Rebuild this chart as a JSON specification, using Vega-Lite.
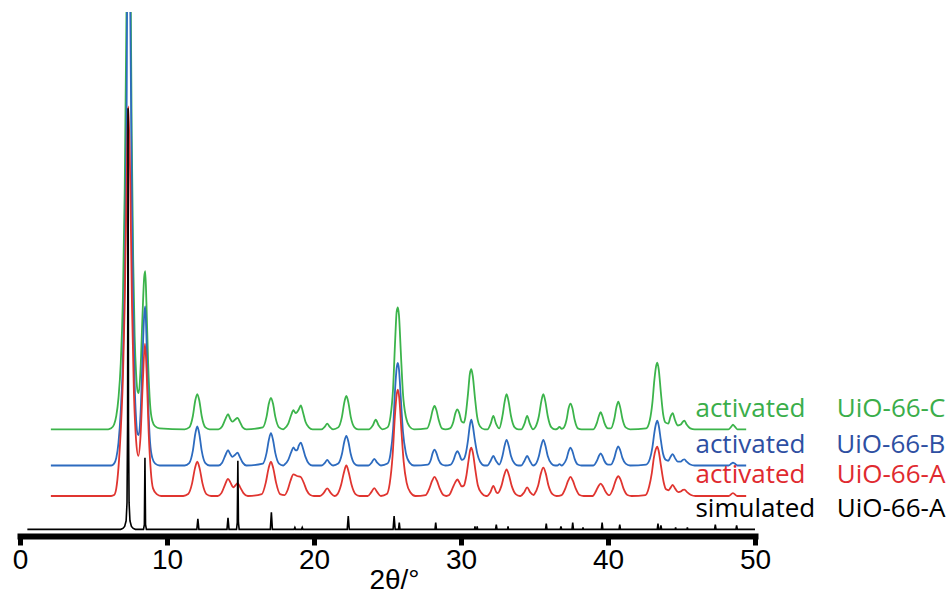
{
  "$schema": "https://vega.github.io/schema/vega-lite/v6.json",
  "width": 735,
  "height": 524,
  "autosize": {"type": "none"},
  "padding": {"left": 20, "top": 12, "right": 196, "bottom": 58},
  "background": "white",
  "config": {"view": {"stroke": null}},
  "datasets": {
    "UiO-66-C": [
      {"x":2.1,"y":112},{"x":4,"y":112},{"x":6.0,"y":112},{"x":6.2,"y":113},{"x":6.4,"y":117},{"x":6.55,"y":126},{"x":6.7,"y":145},{"x":6.85,"y":180},{"x":7.0,"y":250},{"x":7.12,"y":360},{"x":7.25,"y":560},{"x":7.37,"y":900},{"x":7.5,"y":640},{"x":7.6,"y":420},{"x":7.7,"y":290},{"x":7.8,"y":210},{"x":7.9,"y":170},{"x":8.0,"y":152},{"x":8.08,"y":150},{"x":8.2,"y":175},{"x":8.33,"y":230},{"x":8.45,"y":272},{"x":8.52,"y":278},{"x":8.6,"y":245},{"x":8.72,"y":180},{"x":8.85,"y":138},{"x":9.0,"y":121},{"x":9.2,"y":115},{"x":9.5,"y":113},
      {"x":11.2,"y":112},{"x":11.51,"y":114},{"x":11.76,"y":126},{"x":11.92,"y":142},{"x":12.06,"y":149},{"x":12.2,"y":142},{"x":12.36,"y":126},{"x":12.61,"y":114},{"x":12.9,"y":112},
      {"x":13.5,"y":112},{"x":13.75,"y":115},{"x":13.98,"y":123},{"x":14.15,"y":128},{"x":14.3,"y":123},{"x":14.45,"y":120},{"x":14.62,"y":122},{"x":14.8,"y":124},{"x":14.95,"y":120},{"x":15.15,"y":114},{"x":15.4,"y":112},
      {"x":16.52,"y":114},{"x":16.77,"y":125},{"x":16.93,"y":139},{"x":17.07,"y":145},{"x":17.21,"y":139},{"x":17.37,"y":125},{"x":17.62,"y":114},{"x":17.9,"y":112},
      {"x":18.0,"y":113},{"x":18.25,"y":118},{"x":18.45,"y":127},{"x":18.6,"y":132},{"x":18.75,"y":129},{"x":18.85,"y":130},{"x":18.97,"y":133},{"x":19.1,"y":137},{"x":19.25,"y":130},{"x":19.42,"y":120},{"x":19.65,"y":114},{"x":19.9,"y":112},
      {"x":20.5,"y":112},{"x":20.75,"y":115},{"x":20.9,"y":118},{"x":21.05,"y":115},{"x":21.3,"y":112},
      {"x":21.65,"y":114},{"x":21.9,"y":125},{"x":22.06,"y":140},{"x":22.2,"y":147},{"x":22.34,"y":140},{"x":22.5,"y":125},{"x":22.75,"y":114},{"x":23.0,"y":112},
      {"x":23.75,"y":112},{"x":24.0,"y":116},{"x":24.2,"y":122},{"x":24.4,"y":116},{"x":24.65,"y":112},
      {"x":25.0,"y":114},{"x":25.2,"y":125},{"x":25.38,"y":155},{"x":25.52,"y":205},{"x":25.62,"y":235},{"x":25.7,"y":240},{"x":25.78,"y":232},{"x":25.9,"y":195},{"x":26.05,"y":150},{"x":26.25,"y":125},{"x":26.5,"y":115},{"x":26.8,"y":112},
      {"x":27.7,"y":113},{"x":27.92,"y":122},{"x":28.07,"y":132},{"x":28.2,"y":136.5},{"x":28.33,"y":132},{"x":28.48,"y":122},{"x":28.7,"y":113},{"x":28.95,"y":112},
      {"x":29.25,"y":113},{"x":29.48,"y":120},{"x":29.62,"y":129},{"x":29.75,"y":133},{"x":29.88,"y":129},{"x":30.05,"y":120},{"x":30.2,"y":119},{"x":30.3,"y":125},{"x":30.48,"y":150},{"x":30.6,"y":170},{"x":30.7,"y":175},{"x":30.8,"y":168},{"x":30.95,"y":145},{"x":31.1,"y":125},{"x":31.3,"y":115},{"x":31.6,"y":112},
      {"x":31.8,"y":112},{"x":32.02,"y":118},{"x":32.2,"y":126},{"x":32.38,"y":118},{"x":32.6,"y":113},{"x":32.82,"y":126},{"x":32.97,"y":141},{"x":33.1,"y":149},{"x":33.24,"y":141},{"x":33.4,"y":126},{"x":33.65,"y":114},{"x":33.9,"y":112},
      {"x":34.1,"y":112},{"x":34.32,"y":118},{"x":34.5,"y":126},{"x":34.68,"y":118},{"x":34.9,"y":112},
      {"x":35.05,"y":114},{"x":35.3,"y":126},{"x":35.46,"y":141},{"x":35.6,"y":149},{"x":35.74,"y":141},{"x":35.9,"y":126},{"x":36.15,"y":114},{"x":36.4,"y":112},
      {"x":36.55,"y":112.5},{"x":36.7,"y":114.5},{"x":36.85,"y":112.5},
      {"x":36.95,"y":113},{"x":37.18,"y":122},{"x":37.32,"y":134},{"x":37.45,"y":139},{"x":37.58,"y":134},{"x":37.73,"y":122},{"x":37.95,"y":113},{"x":38.2,"y":112},
      {"x":39.0,"y":112},{"x":39.25,"y":119},{"x":39.38,"y":126},{"x":39.5,"y":130},{"x":39.62,"y":126},{"x":39.75,"y":119},{"x":40.0,"y":113},
      {"x":40.2,"y":113},{"x":40.43,"y":123},{"x":40.57,"y":135},{"x":40.7,"y":141},{"x":40.83,"y":135},{"x":40.98,"y":123},{"x":41.2,"y":114},{"x":41.5,"y":112},
      {"x":42.6,"y":113},{"x":42.85,"y":122},{"x":43.02,"y":140},{"x":43.15,"y":163},{"x":43.27,"y":178},{"x":43.35,"y":182},{"x":43.45,"y":175},{"x":43.6,"y":150},{"x":43.75,"y":128},{"x":43.92,"y":119},{"x":44.1,"y":118},{"x":44.25,"y":125},{"x":44.4,"y":129},{"x":44.55,"y":122},{"x":44.75,"y":116},{"x":44.95,"y":117},{"x":45.1,"y":120},{"x":45.2,"y":121},{"x":45.35,"y":117},{"x":45.6,"y":113},{"x":45.9,"y":112},
      {"x":48.2,"y":112},{"x":48.4,"y":115},{"x":48.5,"y":117},{"x":48.62,"y":115},{"x":48.8,"y":112},{"x":49.4,"y":112}
    ],
    "UiO-66-B": [
      {"x":2.1,"y":74},{"x":4,"y":74},{"x":6.2,"y":74},{"x":6.4,"y":76},{"x":6.55,"y":82},{"x":6.7,"y":98},{"x":6.85,"y":130},{"x":7.0,"y":185},{"x":7.12,"y":270},{"x":7.25,"y":440},{"x":7.37,"y":820},{"x":7.5,"y":560},{"x":7.6,"y":370},{"x":7.7,"y":240},{"x":7.8,"y":160},{"x":7.9,"y":122},{"x":8.0,"y":107},{"x":8.08,"y":106},{"x":8.2,"y":128},{"x":8.33,"y":185},{"x":8.45,"y":232},{"x":8.52,"y":241},{"x":8.6,"y":210},{"x":8.72,"y":140},{"x":8.85,"y":98},{"x":9.0,"y":82},{"x":9.2,"y":76},{"x":9.5,"y":74},
      {"x":11.2,"y":74},{"x":11.51,"y":76.5},{"x":11.76,"y":89.6},{"x":11.92,"y":106.8},{"x":12.06,"y":115},{"x":12.2,"y":106.8},{"x":12.36,"y":89.6},{"x":12.61,"y":76.5},{"x":12.9,"y":74},
      {"x":13.5,"y":74},{"x":13.75,"y":77},{"x":13.98,"y":85},{"x":14.15,"y":90},{"x":14.3,"y":86},{"x":14.45,"y":83},{"x":14.62,"y":85},{"x":14.8,"y":87.5},{"x":14.95,"y":83},{"x":15.15,"y":77},{"x":15.4,"y":74},
      {"x":16.52,"y":76},{"x":16.77,"y":87},{"x":16.93,"y":101},{"x":17.07,"y":108},{"x":17.21,"y":101},{"x":17.37,"y":87},{"x":17.62,"y":76},{"x":17.9,"y":74},
      {"x":18.0,"y":75},{"x":18.25,"y":80},{"x":18.45,"y":88},{"x":18.6,"y":93},{"x":18.75,"y":90},{"x":18.85,"y":90},{"x":18.97,"y":95},{"x":19.1,"y":98},{"x":19.25,"y":92},{"x":19.42,"y":83},{"x":19.65,"y":76},{"x":19.9,"y":74},
      {"x":20.5,"y":74},{"x":20.75,"y":77},{"x":20.9,"y":80},{"x":21.05,"y":77},{"x":21.3,"y":74},
      {"x":21.65,"y":76},{"x":21.9,"y":86},{"x":22.06,"y":99},{"x":22.2,"y":105},{"x":22.34,"y":99},{"x":22.5,"y":86},{"x":22.75,"y":76},{"x":23.0,"y":74},
      {"x":23.7,"y":74},{"x":23.92,"y":77},{"x":24.1,"y":81},{"x":24.3,"y":77},{"x":24.55,"y":74},
      {"x":25.0,"y":76},{"x":25.2,"y":86},{"x":25.38,"y":112},{"x":25.52,"y":155},{"x":25.62,"y":176},{"x":25.7,"y":181.7},{"x":25.78,"y":175},{"x":25.9,"y":146},{"x":26.05,"y":110},{"x":26.25,"y":87},{"x":26.5,"y":77},{"x":26.8,"y":74},
      {"x":27.75,"y":75},{"x":27.95,"y":80},{"x":28.07,"y":87},{"x":28.2,"y":90.7},{"x":28.33,"y":87},{"x":28.48,"y":80},{"x":28.7,"y":75},{"x":28.95,"y":74},
      {"x":29.3,"y":75},{"x":29.5,"y":80},{"x":29.63,"y":86},{"x":29.75,"y":89},{"x":29.88,"y":86},{"x":30.05,"y":80},{"x":30.2,"y":81},{"x":30.3,"y":85},{"x":30.48,"y":101},{"x":30.6,"y":116},{"x":30.7,"y":122},{"x":30.8,"y":116},{"x":30.95,"y":100},{"x":31.1,"y":87},{"x":31.3,"y":78},{"x":31.6,"y":74},
      {"x":31.8,"y":74},{"x":32.02,"y":79},{"x":32.2,"y":84},{"x":32.38,"y":79},{"x":32.6,"y":75},{"x":32.82,"y":84},{"x":32.97,"y":95},{"x":33.1,"y":101},{"x":33.24,"y":95},{"x":33.4,"y":84},{"x":33.65,"y":76},{"x":33.9,"y":74},
      {"x":34.1,"y":74},{"x":34.32,"y":79},{"x":34.5,"y":84},{"x":34.68,"y":79},{"x":34.9,"y":74},
      {"x":35.05,"y":75},{"x":35.3,"y":84},{"x":35.46,"y":95},{"x":35.6,"y":101},{"x":35.74,"y":95},{"x":35.9,"y":84},{"x":36.15,"y":76},{"x":36.4,"y":74},
      {"x":36.55,"y":74},{"x":36.7,"y":75.5},{"x":36.85,"y":74},
      {"x":36.95,"y":75},{"x":37.18,"y":81},{"x":37.32,"y":89},{"x":37.45,"y":92.7},{"x":37.58,"y":89},{"x":37.73,"y":81},{"x":37.95,"y":75},{"x":38.2,"y":74},
      {"x":39.0,"y":74},{"x":39.25,"y":79},{"x":39.38,"y":84},{"x":39.5,"y":86.7},{"x":39.62,"y":84},{"x":39.75,"y":79},{"x":40.0,"y":75},
      {"x":40.2,"y":75},{"x":40.43,"y":82},{"x":40.57,"y":90},{"x":40.7,"y":94},{"x":40.83,"y":90},{"x":40.98,"y":82},{"x":41.2,"y":76},{"x":41.5,"y":74},
      {"x":42.6,"y":75},{"x":42.85,"y":81},{"x":43.02,"y":93},{"x":43.15,"y":108},{"x":43.27,"y":118},{"x":43.35,"y":121},{"x":43.45,"y":116},{"x":43.6,"y":100},{"x":43.75,"y":86},{"x":43.92,"y":80},{"x":44.1,"y":79},{"x":44.25,"y":83},{"x":44.4,"y":86},{"x":44.55,"y":82},{"x":44.75,"y":78},{"x":44.95,"y":78},{"x":45.1,"y":80},{"x":45.2,"y":80.5},{"x":45.35,"y":78},{"x":45.6,"y":75},{"x":45.9,"y":74},
      {"x":48.2,"y":74},{"x":48.4,"y":76},{"x":48.5,"y":77},{"x":48.62,"y":76},{"x":48.8,"y":74},{"x":49.4,"y":74}
    ],
    "UiO-66-A": [
      {"x":2.1,"y":42},{"x":4,"y":42},{"x":6.2,"y":42},{"x":6.4,"y":43},{"x":6.55,"y":50},{"x":6.7,"y":72},{"x":6.85,"y":110},{"x":7.0,"y":165},{"x":7.12,"y":240},{"x":7.25,"y":365},{"x":7.37,"y":451},{"x":7.5,"y":370},{"x":7.62,"y":240},{"x":7.75,"y":150},{"x":7.9,"y":100},{"x":8.05,"y":84},{"x":8.2,"y":105},{"x":8.35,"y":160},{"x":8.5,"y":202},{"x":8.62,"y":170},{"x":8.75,"y":110},{"x":8.9,"y":68},{"x":9.05,"y":50},{"x":9.3,"y":44},{"x":9.6,"y":42},
      {"x":11.1,"y":42},{"x":11.44,"y":44},{"x":11.71,"y":55.5},{"x":11.9,"y":71},{"x":12.06,"y":78},{"x":12.22,"y":71},{"x":12.41,"y":55.5},{"x":12.68,"y":44},{"x":13.0,"y":42},
      {"x":13.45,"y":42},{"x":13.7,"y":45},{"x":13.95,"y":54},{"x":14.15,"y":60},{"x":14.32,"y":56},{"x":14.5,"y":51},{"x":14.65,"y":53},{"x":14.8,"y":55.5},{"x":14.98,"y":51},{"x":15.2,"y":45},{"x":15.5,"y":42},
      {"x":16.45,"y":44},{"x":16.72,"y":56},{"x":16.91,"y":71},{"x":17.07,"y":78},{"x":17.23,"y":71},{"x":17.42,"y":56},{"x":17.69,"y":44},{"x":18.0,"y":43},
      {"x":18.2,"y":48},{"x":18.4,"y":58},{"x":18.6,"y":64.7},{"x":18.85,"y":63},{"x":19.1,"y":62},{"x":19.3,"y":56},{"x":19.5,"y":48},{"x":19.75,"y":43},{"x":20.0,"y":42},
      {"x":20.4,"y":42},{"x":20.65,"y":45},{"x":20.9,"y":50},{"x":21.15,"y":45},{"x":21.4,"y":42},
      {"x":21.6,"y":44},{"x":21.85,"y":54},{"x":22.04,"y":67},{"x":22.2,"y":74},{"x":22.36,"y":67},{"x":22.55,"y":54},{"x":22.82,"y":44},{"x":23.1,"y":42},
      {"x":23.65,"y":42},{"x":23.9,"y":46},{"x":24.1,"y":50.3},{"x":24.3,"y":46},{"x":24.55,"y":42},
      {"x":24.95,"y":44},{"x":25.15,"y":55},{"x":25.35,"y":85},{"x":25.5,"y":125},{"x":25.62,"y":148},{"x":25.7,"y":153.7},{"x":25.8,"y":145},{"x":25.95,"y":110},{"x":26.1,"y":78},{"x":26.3,"y":56},{"x":26.55,"y":46},{"x":26.9,"y":42},
      {"x":27.6,"y":43},{"x":27.85,"y":50},{"x":28.04,"y":58},{"x":28.2,"y":62},{"x":28.36,"y":58},{"x":28.55,"y":50},{"x":28.8,"y":43},{"x":29.0,"y":42},
      {"x":29.2,"y":43},{"x":29.42,"y":50},{"x":29.6,"y":56},{"x":29.75,"y":59.3},{"x":29.9,"y":56},{"x":30.05,"y":52},{"x":30.2,"y":53},{"x":30.35,"y":62},{"x":30.52,"y":80},{"x":30.62,"y":90},{"x":30.7,"y":92.7},{"x":30.8,"y":88},{"x":30.97,"y":70},{"x":31.15,"y":53},{"x":31.4,"y":45},{"x":31.7,"y":42},
      {"x":31.75,"y":42},{"x":32.0,"y":46},{"x":32.2,"y":52.7},{"x":32.4,"y":46},{"x":32.5,"y":45},{"x":32.75,"y":52.6},{"x":32.94,"y":64},{"x":33.1,"y":70},{"x":33.26,"y":64},{"x":33.45,"y":52.6},{"x":33.72,"y":44},{"x":34.0,"y":42},
      {"x":34.05,"y":42},{"x":34.3,"y":46},{"x":34.5,"y":51},{"x":34.7,"y":46},{"x":34.95,"y":43},
      {"x":35.0,"y":44},{"x":35.25,"y":53},{"x":35.44,"y":66},{"x":35.6,"y":71.7},{"x":35.76,"y":66},{"x":35.95,"y":53},{"x":36.22,"y":44},{"x":36.5,"y":42},
      {"x":36.85,"y":43},{"x":37.1,"y":50},{"x":37.29,"y":58},{"x":37.45,"y":62},{"x":37.61,"y":58},{"x":37.8,"y":50},{"x":38.07,"y":43},{"x":38.35,"y":42},
      {"x":38.95,"y":42},{"x":39.18,"y":47},{"x":39.34,"y":52},{"x":39.5,"y":55},{"x":39.66,"y":52},{"x":39.82,"y":47},{"x":40.05,"y":43},
      {"x":40.1,"y":43},{"x":40.35,"y":50},{"x":40.54,"y":59},{"x":40.7,"y":62.7},{"x":40.86,"y":59},{"x":41.05,"y":50},{"x":41.32,"y":43},{"x":41.6,"y":42},
      {"x":42.55,"y":43},{"x":42.8,"y":52},{"x":42.98,"y":66},{"x":43.12,"y":82},{"x":43.25,"y":91},{"x":43.35,"y":93.7},{"x":43.45,"y":89},{"x":43.6,"y":74},{"x":43.78,"y":57},{"x":43.95,"y":49},{"x":44.12,"y":48},{"x":44.27,"y":51},{"x":44.4,"y":53.7},{"x":44.56,"y":50},{"x":44.78,"y":46},{"x":44.98,"y":47},{"x":45.1,"y":48.5},{"x":45.2,"y":48.7},{"x":45.38,"y":46},{"x":45.65,"y":43},{"x":45.95,"y":42},
      {"x":48.2,"y":42},{"x":48.5,"y":45},{"x":48.8,"y":42},{"x":49.4,"y":42}
    ],
    "simulated UiO-66-A": [
      {"x":0.5,"y":7},{"x":6.85,"y":7},{"x":7.0,"y":8},{"x":7.12,"y":10},{"x":7.22,"y":16},{"x":7.28,"y":35},{"x":7.32,"y":120},{"x":7.35,"y":449},{"x":7.38,"y":120},{"x":7.42,"y":35},{"x":7.48,"y":16},{"x":7.58,"y":10},{"x":7.7,"y":8},{"x":7.85,"y":7},
      {"x":8.4,"y":7},{"x":8.46,"y":12},{"x":8.5,"y":82},{"x":8.54,"y":12},{"x":8.6,"y":7},
      {"x":12.03,"y":7},{"x":12.1,"y":18},{"x":12.17,"y":7},
      {"x":14.08,"y":7},{"x":14.15,"y":19},{"x":14.22,"y":7},
      {"x":14.73,"y":7},{"x":14.78,"y":14},{"x":14.82,"y":79},{"x":14.86,"y":14},{"x":14.91,"y":7},
      {"x":17.03,"y":7},{"x":17.1,"y":25},{"x":17.17,"y":7},
      {"x":18.65,"y":7},{"x":18.7,"y":9},{"x":18.75,"y":7},{"x":19.15,"y":7},{"x":19.2,"y":9},{"x":19.25,"y":7},
      {"x":22.26,"y":7},{"x":22.33,"y":21},{"x":22.4,"y":7},
      {"x":25.38,"y":7},{"x":25.45,"y":21},{"x":25.52,"y":7},{"x":25.75,"y":7},{"x":25.8,"y":14},{"x":25.85,"y":7},
      {"x":28.23,"y":7},{"x":28.28,"y":14},{"x":28.33,"y":7},
      {"x":30.92,"y":7},{"x":30.95,"y":10},{"x":30.98,"y":7},{"x":31.07,"y":7},{"x":31.1,"y":10},{"x":31.13,"y":7},
      {"x":32.35,"y":7},{"x":32.4,"y":12},{"x":32.45,"y":7},
      {"x":33.17,"y":7},{"x":33.2,"y":10},{"x":33.23,"y":7},
      {"x":35.75,"y":7},{"x":35.8,"y":13},{"x":35.85,"y":7},
      {"x":36.75,"y":7},{"x":36.8,"y":10},{"x":36.85,"y":7},
      {"x":37.55,"y":7},{"x":37.6,"y":14},{"x":37.65,"y":7},
      {"x":38.27,"y":7},{"x":38.3,"y":9},{"x":38.33,"y":7},
      {"x":39.55,"y":7},{"x":39.6,"y":14},{"x":39.65,"y":7},
      {"x":40.75,"y":7},{"x":40.8,"y":12},{"x":40.85,"y":7},
      {"x":43.35,"y":7},{"x":43.4,"y":13},{"x":43.45,"y":7},{"x":43.55,"y":7},{"x":43.6,"y":11},{"x":43.65,"y":7},
      {"x":44.57,"y":7},{"x":44.6,"y":9},{"x":44.63,"y":7},
      {"x":45.37,"y":7},{"x":45.4,"y":9},{"x":45.43,"y":7},
      {"x":47.25,"y":7},{"x":47.3,"y":12},{"x":47.35,"y":7},
      {"x":48.7,"y":7},{"x":48.75,"y":11},{"x":48.8,"y":7},
      {"x":50.0,"y":7}
    ],
    "labels": [
      {"series":"activated UiO-66-C","kind":"activated","name":"UiO-66-C","offset":112},
      {"series":"activated UiO-66-B","kind":"activated","name":"UiO-66-B","offset":74},
      {"series":"activated UiO-66-A","kind":"activated","name":"UiO-66-A","offset":42},
      {"series":"simulated UiO-66-A","kind":"simulated","name":"UiO-66-A","offset":7}
    ]
  },
  "layer": [
    {
      "data": {"name": "UiO-66-C"},
      "mark": {"type": "line", "color": "#3cb44b", "strokeWidth": 1.8, "interpolate": "monotone", "clip": true},
      "encoding": {
        "x": {"field": "x", "type": "quantitative", "scale": {"domain": [0, 50]},
          "axis": {"title": "2θ/°", "values": [0, 10, 20, 30, 40, 50], "grid": false,
            "domainWidth": 6, "domainColor": "black", "domainCap": "square",
            "tickWidth": 5, "tickSize": 9, "tickColor": "black",
            "labelFont": "Liberation Sans", "labelFontSize": 28, "labelColor": "black", "labelPadding": 1, "labelFlush": false, "labelOverlap": false,
            "titleFont": "Liberation Sans", "titleFontSize": 28, "titleFontWeight": "normal", "titleColor": "black",
            "titleX": 374, "titleY": 52, "titleBaseline": "alphabetic", "titleAlign": "center"}},
        "y": {"field": "y", "type": "quantitative", "scale": {"domain": [0, 524]}, "axis": null}
      }
    },
    {
      "data": {"name": "UiO-66-B"},
      "mark": {"type": "line", "color": "#2d6bbf", "strokeWidth": 1.8, "interpolate": "monotone", "clip": true},
      "encoding": {
        "x": {"field": "x", "type": "quantitative"},
        "y": {"field": "y", "type": "quantitative"}
      }
    },
    {
      "data": {"name": "UiO-66-A"},
      "mark": {"type": "line", "color": "#e03530", "strokeWidth": 1.8, "interpolate": "monotone", "clip": true},
      "encoding": {
        "x": {"field": "x", "type": "quantitative"},
        "y": {"field": "y", "type": "quantitative"}
      }
    },
    {
      "data": {"name": "simulated UiO-66-A"},
      "mark": {"type": "line", "color": "black", "strokeWidth": 1.6, "clip": true},
      "encoding": {
        "x": {"field": "x", "type": "quantitative"},
        "y": {"field": "y", "type": "quantitative"}
      }
    },
    {
      "data": {"name": "labels"},
      "mark": {"type": "text", "align": "left", "baseline": "alphabetic", "dy": -12.5, "font": "Open Sans", "fontSize": 26},
      "encoding": {
        "x": {"datum": 45.95, "type": "quantitative"},
        "y": {"field": "offset", "type": "quantitative"},
        "text": {"field": "kind"},
        "color": {"field": "series", "type": "nominal", "legend": null,
          "scale": {"domain": ["activated UiO-66-C", "activated UiO-66-B", "activated UiO-66-A", "simulated UiO-66-A"], "range": ["#3aae4a", "#2e4fa2", "#e02a2f", "#000000"]}}
      }
    },
    {
      "data": {"name": "labels"},
      "mark": {"type": "text", "align": "right", "baseline": "alphabetic", "dy": -12.5, "font": "Open Sans", "fontSize": 26},
      "encoding": {
        "x": {"datum": 62.95, "type": "quantitative"},
        "y": {"field": "offset", "type": "quantitative"},
        "text": {"field": "name"},
        "color": {"field": "series", "type": "nominal", "legend": null}
      }
    }
  ]
}
